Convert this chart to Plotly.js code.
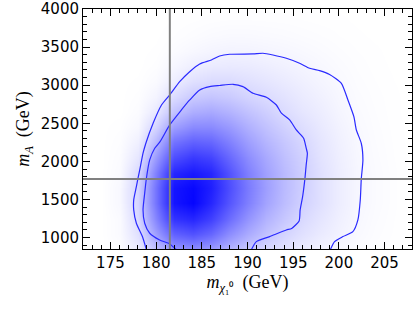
<!DOCTYPE html>
<html>
<head>
<meta charset="utf-8">
<script src="https://cdn.plot.ly/plotly-3.0.1.min.js"></script>
<style>html,body{margin:0;padding:0;background:#fff;}#chart{width:416px;height:312px;}</style>
</head>
<body>
<div id="chart"></div>
<script>
// Density grid (relative posterior density)
const gridX = [172,174,176,178,180,182,184,186,188,190,192,194,196,198,200,202,204,206,208];
const gridY = [850,1050,1250,1450,1650,1850,2050,2250,2450,2650,2850,3050,3250,3450,3650,3850,4050];
const density = [
  [0,0,0.01,0.08,0.25,0.42,0.45,0.4,0.3,0.22,0.16,0.12,0.08,0.05,0.03,0.015,0.008,0.003,0],
  [0,0,0.02,0.12,0.38,0.62,0.68,0.6,0.45,0.33,0.24,0.17,0.12,0.08,0.05,0.025,0.012,0.005,0],
  [0,0,0.02,0.15,0.48,0.8,0.85,0.75,0.58,0.42,0.3,0.22,0.15,0.1,0.06,0.03,0.015,0.006,0],
  [0,0,0.03,0.17,0.55,0.92,0.98,0.85,0.67,0.5,0.36,0.26,0.18,0.12,0.07,0.035,0.018,0.007,0],
  [0,0,0.03,0.17,0.55,0.92,0.97,0.88,0.7,0.52,0.38,0.27,0.19,0.12,0.07,0.035,0.018,0.007,0],
  [0,0,0.02,0.15,0.5,0.85,0.9,0.85,0.68,0.5,0.37,0.27,0.19,0.12,0.07,0.035,0.018,0.007,0],
  [0,0,0.015,0.1,0.4,0.7,0.78,0.74,0.6,0.45,0.34,0.25,0.18,0.11,0.065,0.032,0.016,0.006,0],
  [0,0,0.01,0.06,0.28,0.55,0.62,0.6,0.5,0.38,0.29,0.22,0.16,0.1,0.058,0.028,0.014,0.005,0],
  [0,0,0.005,0.03,0.17,0.38,0.46,0.46,0.4,0.31,0.24,0.18,0.13,0.085,0.05,0.024,0.012,0.004,0],
  [0,0,0,0.015,0.09,0.24,0.32,0.34,0.3,0.24,0.19,0.14,0.1,0.07,0.04,0.02,0.01,0.003,0],
  [0,0,0,0.008,0.045,0.14,0.21,0.23,0.21,0.17,0.14,0.11,0.08,0.055,0.032,0.016,0.008,0.003,0],
  [0,0,0,0.003,0.02,0.07,0.12,0.14,0.14,0.12,0.1,0.08,0.06,0.04,0.024,0.012,0.006,0.002,0],
  [0,0,0,0,0.008,0.035,0.065,0.08,0.085,0.08,0.068,0.055,0.042,0.028,0.017,0.009,0.004,0.001,0],
  [0,0,0,0,0.003,0.015,0.03,0.042,0.048,0.046,0.04,0.034,0.026,0.018,0.011,0.006,0.003,0,0],
  [0,0,0,0,0.001,0.006,0.013,0.02,0.024,0.024,0.021,0.018,0.014,0.01,0.006,0.003,0.001,0,0],
  [0,0,0,0,0,0.002,0.005,0.008,0.01,0.01,0.009,0.008,0.006,0.004,0.003,0.001,0,0,0],
  [0,0,0,0,0,0,0.002,0.003,0.004,0.004,0.004,0.003,0.002,0.002,0.001,0,0,0,0]
];

// 95% credible contour (outer)
const outerX = [178.94,178.50,177.84,177.55,177.55,177.84,178.02,178.28,178.57,178.87,179.67,180.59,181.49,182.58,183.67,184.77,186.05,186.95,188.05,190.60,191.69,192.78,194.25,195.70,196.80,197.89,198.98,200.27,200.99,201.64,201.91,202.45,202.63,202.45,202.34,202.08,201.53,200.44,199.53,199.06];
const outerY = [840,1013,1188,1363,1494,1669,1779,1931,2107,2235,2500,2740,2872,3046,3177,3278,3331,3383,3406,3410,3419,3396,3353,3288,3222,3191,3141,3025,2806,2587,2412,2238,2019,1770,1494,1232,1078,1013,947,840];
// 68% credible contour (inner)
const innerX = [182.22,181.49,180.39,179.30,178.75,178.57,178.75,178.94,179.30,179.85,180.45,181.49,182.77,183.68,184.77,185.86,186.95,188.41,189.50,190.60,192.06,193.16,193.71,194.61,195.34,196.14,196.42,196.55,196.42,196.28,196.03,195.76,195.65,194.83,194.25,192.42,190.97,190.42];
const innerY = [840,917,969,1057,1188,1363,1582,1779,2019,2172,2262,2478,2675,2806,2937,2981,2996,3012,2981,2894,2842,2740,2632,2544,2412,2304,2176,2107,1953,1770,1537,1363,1219,1120,1100,1013,947,840];

// Best-fit point
const bestX = 181.5;
const bestY = 1770;

const xTickVals = [175,180,185,190,195,200,205];
const yTickVals = [1000,1500,2000,2500,3000,3500,4000];

const traces = [
  {type:'heatmap', x:gridX, y:gridY, z:density, zmin:0, zmax:1, zsmooth:'best',
   colorscale:[[0,'#ffffff'],[1,'#0000ff']], showscale:false, hoverinfo:'skip'},
  {type:'scatter', mode:'lines', x:outerX, y:outerY, line:{color:'#2a2aff', width:1.2, shape:'spline', smoothing:0.6}, hoverinfo:'skip'},
  {type:'scatter', mode:'lines', x:innerX, y:innerY, line:{color:'#2a2aff', width:1.2, shape:'spline', smoothing:0.6}, hoverinfo:'skip'}
];

const tickFont = {family:'DejaVu Sans', size:15, color:'#000'};
const layout = {
  width:416, height:312,
  margin:{l:83, r:4, t:9, b:63},
  paper_bgcolor:'#fff', plot_bgcolor:'#fff',
  showlegend:false,
  xaxis:{range:[172,208], tickvals:xTickVals, ticktext:xTickVals.map(String),
    ticks:'inside', ticklen:7, tickwidth:1, tickcolor:'#000', mirror:'ticks',
    showline:true, linecolor:'#000', linewidth:1, showgrid:false, zeroline:false,
    minor:{dtick:1, tick0:0, ticks:'inside', ticklen:4, tickcolor:'#000', showgrid:false},
    tickfont:tickFont,
    title:{text:'<i>m</i><sub><i>χ</i>₁⁰</sub>  (GeV)', font:{family:'Liberation Serif', size:18, color:'#000'}, standoff:4}},
  yaxis:{range:[850,4000], tickvals:yTickVals, ticktext:yTickVals.map(String),
    ticks:'inside', ticklen:7, tickwidth:1, tickcolor:'#000', mirror:'ticks',
    showline:true, linecolor:'#000', linewidth:1, showgrid:false, zeroline:false,
    minor:{dtick:100, tick0:0, ticks:'inside', ticklen:4, tickcolor:'#000', showgrid:false},
    tickfont:tickFont,
    title:{text:'<i>m<sub>A</sub></i>  (GeV)', font:{family:'Liberation Serif', size:18, color:'#000'}, standoff:6}},
  shapes:[
    {type:'line', xref:'x', yref:'paper', x0:bestX, x1:bestX, y0:0, y1:1, line:{color:'#808080', width:2}, layer:'above'},
    {type:'line', xref:'paper', yref:'y', x0:0, x1:1, y0:bestY, y1:bestY, line:{color:'#808080', width:2}, layer:'above'}
  ]
};
Plotly.newPlot('chart', traces, layout, {displayModeBar:false, staticPlot:true});
</script>
</body>
</html>
